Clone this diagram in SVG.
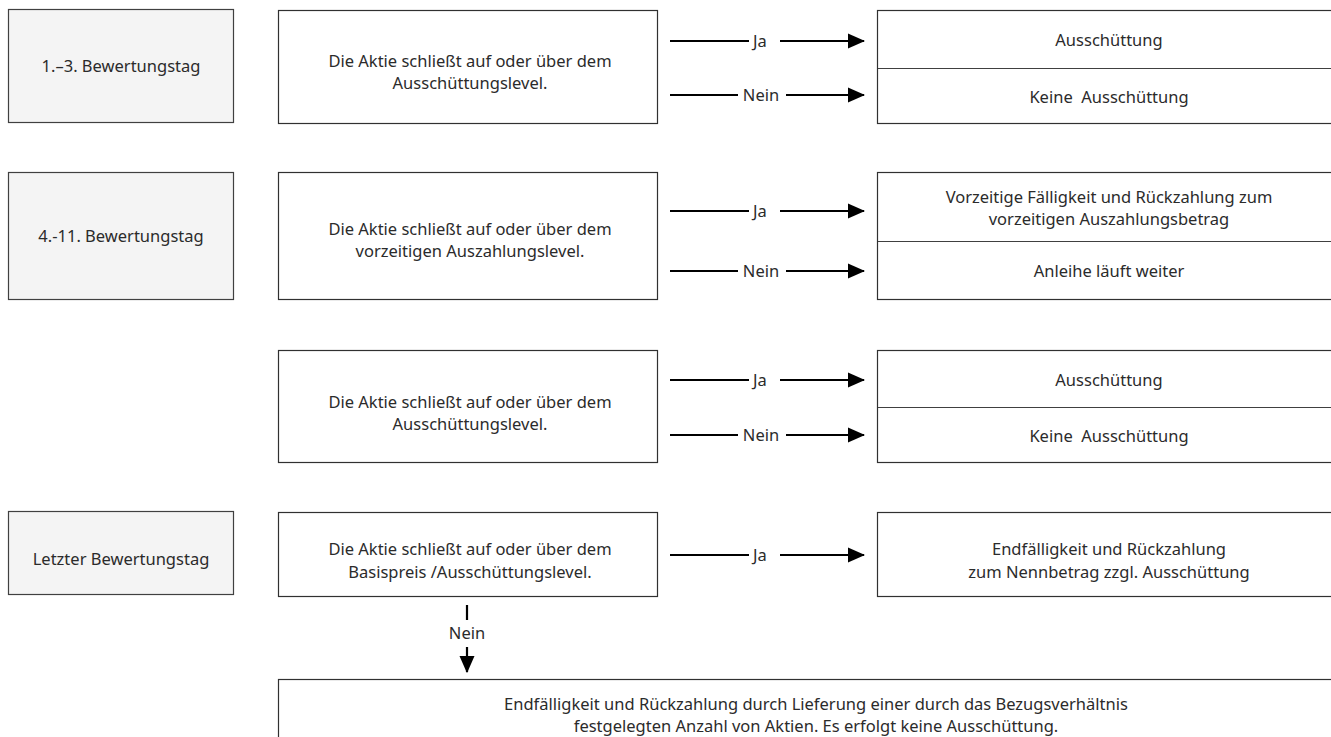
<svg xmlns="http://www.w3.org/2000/svg" width="1331" height="737" viewBox="0 0 1331 737">
<style>
text{font-family:"Noto Sans","Liberation Sans",sans-serif;font-size:16.5px;fill:#2b2b2b;text-anchor:middle}
.lbl{fill:#f4f4f4;stroke:#404040;stroke-width:1.2}
.box{fill:#fff;stroke:#303030;stroke-width:1.2}
.div{stroke:#404040;stroke-width:1}
.ln{stroke:#000;stroke-width:2.2;fill:none}
</style>
<defs>
<marker id="ah" markerWidth="8" markerHeight="7" refX="7.5" refY="3.5" orient="auto" markerUnits="strokeWidth" viewBox="0 0 8 7">
<path d="M0,0 L8,3.5 L0,7 z" fill="#000"/>
</marker>
</defs>
<g id="n1"><rect class="lbl" x="8.5" y="9.5" width="225" height="113"/><text x="121" y="72">1.–3. Bewertungstag</text></g>
<g id="n2"><rect class="lbl" x="8.5" y="172.5" width="225" height="127"/><text x="121" y="242">4.-11. Bewertungstag</text></g>
<g id="n3"><rect class="lbl" x="8.5" y="511.5" width="225" height="83"/><text x="121" y="565">Letzter Bewertungstag</text></g>

<g id="m1"><rect class="box" x="278.5" y="10.5" width="379" height="113"/><text x="470" y="67">Die Aktie schließt auf oder über dem</text><text x="470" y="89">Ausschüttungslevel.</text></g>
<g id="m2"><rect class="box" x="278.5" y="172.5" width="379" height="127"/><text x="470" y="235">Die Aktie schließt auf oder über dem</text><text x="470" y="257">vorzeitigen Auszahlungslevel.</text></g>
<g id="m3"><rect class="box" x="278.5" y="350.5" width="379" height="112"/><text x="470" y="408">Die Aktie schließt auf oder über dem</text><text x="470" y="430">Ausschüttungslevel.</text></g>
<g id="m4"><rect class="box" x="278.5" y="512.5" width="379" height="84"/><text x="470" y="555">Die Aktie schließt auf oder über dem</text><text x="470" y="578">Basispreis /Ausschüttungslevel.</text></g>

<g id="r1"><rect class="box" x="877.5" y="10.5" width="460" height="113"/><line class="div" x1="878" y1="68.5" x2="1331" y2="68.5"/><text x="1109" y="46">Ausschüttung</text><text x="1109" y="103">Keine&#160; Ausschüttung</text></g>
<g id="r2"><rect class="box" x="877.5" y="172.5" width="460" height="127"/><line class="div" x1="878" y1="241.5" x2="1331" y2="241.5"/><text x="1109" y="203">Vorzeitige Fälligkeit und Rückzahlung zum</text><text x="1109" y="225">vorzeitigen Auszahlungsbetrag</text><text x="1109" y="277">Anleihe läuft weiter</text></g>
<g id="r3"><rect class="box" x="877.5" y="350.5" width="460" height="112"/><line class="div" x1="878" y1="407.5" x2="1331" y2="407.5"/><text x="1109" y="386">Ausschüttung</text><text x="1109" y="442">Keine&#160; Ausschüttung</text></g>
<g id="r4"><rect class="box" x="877.5" y="512.5" width="460" height="84"/><text x="1109" y="555">Endfälligkeit und Rückzahlung</text><text x="1109" y="578">zum Nennbetrag zzgl. Ausschüttung</text></g>
<g id="b1"><rect class="box" x="278.5" y="679.5" width="1060" height="70"/><text x="816" y="710">Endfälligkeit und Rückzahlung durch Lieferung einer durch das Bezugsverhältnis</text><text x="816" y="732">festgelegten Anzahl von Aktien. Es erfolgt keine Ausschüttung.</text></g>

<g id="connectors">
<line class="ln" x1="670" y1="41" x2="749" y2="41"/><line class="ln" x1="780" y1="41" x2="864" y2="41" marker-end="url(#ah)"/><text x="760" y="47">Ja</text>
<line class="ln" x1="670" y1="95" x2="738" y2="95"/><line class="ln" x1="786" y1="95" x2="864" y2="95" marker-end="url(#ah)"/><text x="761" y="101">Nein</text>
<line class="ln" x1="670" y1="211" x2="749" y2="211"/><line class="ln" x1="780" y1="211" x2="864" y2="211" marker-end="url(#ah)"/><text x="760" y="217">Ja</text>
<line class="ln" x1="670" y1="271" x2="738" y2="271"/><line class="ln" x1="786" y1="271" x2="864" y2="271" marker-end="url(#ah)"/><text x="761" y="277">Nein</text>
<line class="ln" x1="670" y1="380" x2="749" y2="380"/><line class="ln" x1="780" y1="380" x2="864" y2="380" marker-end="url(#ah)"/><text x="760" y="386">Ja</text>
<line class="ln" x1="670" y1="435" x2="738" y2="435"/><line class="ln" x1="786" y1="435" x2="864" y2="435" marker-end="url(#ah)"/><text x="761" y="441">Nein</text>
<line class="ln" x1="670" y1="555" x2="749" y2="555"/><line class="ln" x1="780" y1="555" x2="864" y2="555" marker-end="url(#ah)"/><text x="760" y="561">Ja</text>
<line class="ln" x1="467" y1="605" x2="467" y2="620"/><text x="467" y="639">Nein</text><line class="ln" x1="467" y1="647" x2="467" y2="672" marker-end="url(#ah)"/>
</g>
</svg>
